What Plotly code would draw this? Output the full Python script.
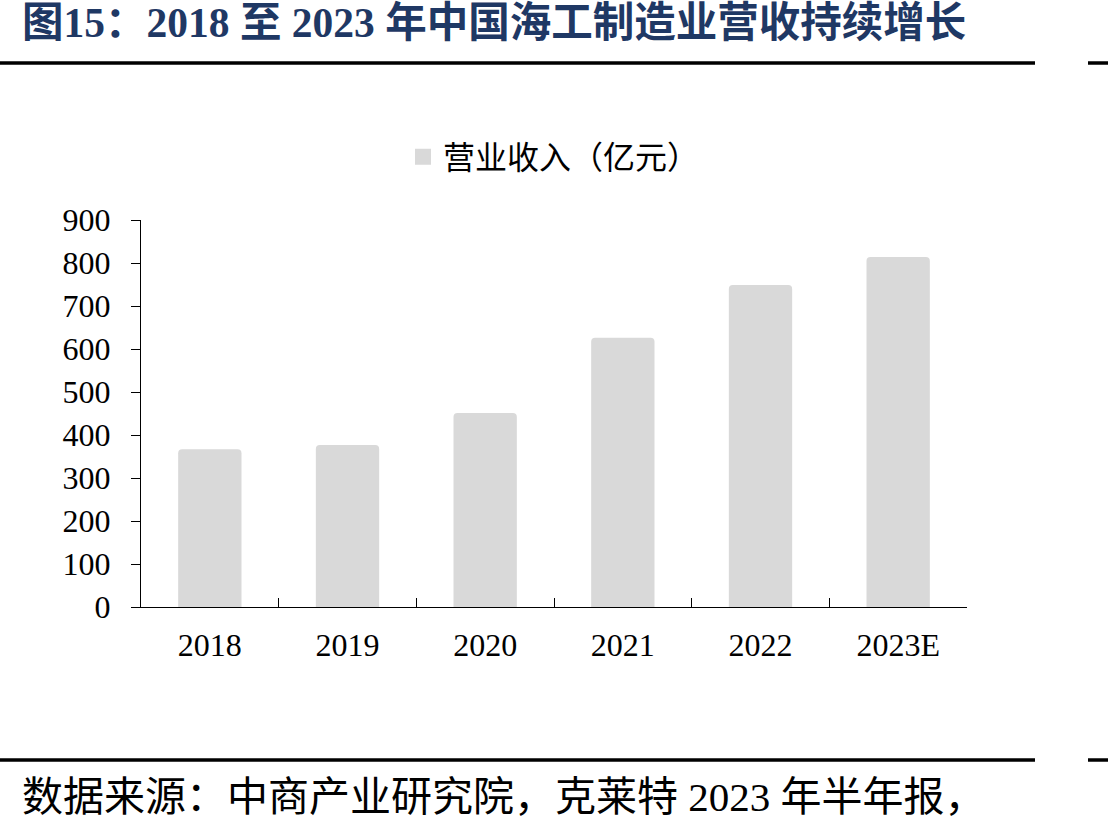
import plotly.graph_objects as go

categories = ["2018", "2019", "2020", "2021", "2022", "2023E"]
revenue = [367, 377, 451, 626, 749, 814]
y_ticks = [0, 100, 200, 300, 400, 500, 600, 700, 800, 900]
series_name = "营业收入（亿元）"
title_text = "图15：2018 至 2023 年中国海工制造业营收持续增长"
source_text = "数据来源：中商产业研究院，克莱特 2023 年半年报，"

W, H = 1108, 830
L, R, T, B = 141, 967, 220, 607

def px(x):
    return (x - L) / (R - L)

def py(y):
    return (B - y) / (B - T)

FONT = "Liberation Serif, Noto Sans CJK SC, serif"

fig = go.Figure()
fig.add_trace(go.Bar(
    x=categories, y=revenue, name=series_name, showlegend=False,
    marker=dict(color="#d9d9d9", cornerradius=4, line=dict(width=0)),
    width=0.46,
))
# legend entry with larger square swatch
fig.add_trace(go.Scatter(
    x=[None], y=[None], mode="markers", name=series_name, showlegend=True,
    marker=dict(symbol="square", size=16, color="#d9d9d9"),
))

fig.update_layout(
    width=W, height=H,
    margin=dict(l=L, r=W - R, t=T, b=H - B),
    plot_bgcolor="white", paper_bgcolor="white",
    font=dict(family=FONT, color="#000000", size=32),
    showlegend=True,
    legend=dict(orientation="h", x=0.5, xanchor="center", y=py(157), yanchor="middle",
                font=dict(size=32, family=FONT), itemwidth=30),
    xaxis=dict(
        showline=True, linecolor="#000", linewidth=1.2,
        ticks="inside", tickson="boundaries", ticklen=9, tickcolor="#000",
        tickfont=dict(size=32, family=FONT), showgrid=False, ticklabelstandoff=9,
    ),
    yaxis=dict(
        range=[0, 900], tickvals=y_ticks, showline=True, linecolor="#000", linewidth=1.2,
        ticks="outside", ticklen=9, tickcolor="#000", showgrid=False, zeroline=False,
        tickfont=dict(size=32, family=FONT), ticklabelstandoff=14,
    ),
    bargap=0.54,
)

# Title
fig.add_annotation(text="<b>" + title_text + "</b>", xref="paper", yref="paper",
                   x=px(20), y=py(23), xanchor="left", yanchor="middle", showarrow=False,
                   font=dict(size=41.5, color="#1f3864", family=FONT))
# Source
fig.add_annotation(text=source_text, xref="paper", yref="paper",
                   x=px(20), y=py(797), xanchor="left", yanchor="middle", showarrow=False,
                   font=dict(size=41, color="#000", family=FONT))

# Horizontal rules
for yy in (63, 760):
    fig.add_shape(type="line", xref="paper", yref="paper", x0=px(0), x1=px(1035),
                  y0=py(yy), y1=py(yy), line=dict(color="#000", width=3.5))
    fig.add_shape(type="line", xref="paper", yref="paper", x0=px(1088), x1=px(1108),
                  y0=py(yy), y1=py(yy), line=dict(color="#000", width=3.5))

fig.write_html("out.html")
